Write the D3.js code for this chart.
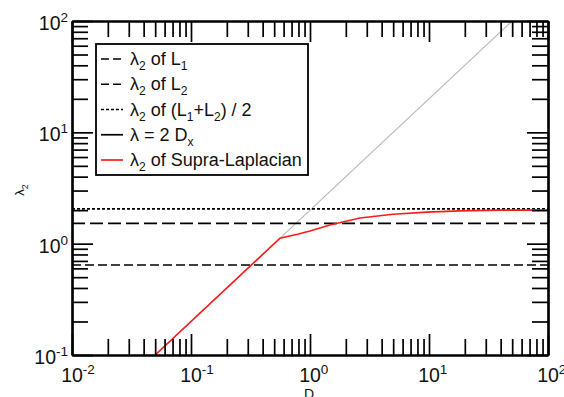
<!DOCTYPE html>
<html>
<head>
<meta charset="utf-8">
<script src="https://cdn.jsdelivr.net/npm/d3@7/dist/d3.min.js"></script>
<style>
  html, body { margin: 0; padding: 0; background: #fff; }
  svg { display: block; }
  text { font-family: "Liberation Sans", Arial, sans-serif; fill: #111; }
</style>
</head>
<body>
<svg id="chart" width="564" height="397"></svg>
<script>
// Axis ranges (log scales)
const xDomain = [0.01, 100];
const yDomain = [0.1, 100];
const xDecades = [-2, -1, 0, 1, 2];
const yDecades = [-1, 0, 1, 2];

// Constant eigenvalue levels
const lambdaL1 = 0.643;
const lambdaL2 = 1.52;
const lambdaMean = 2.05;

// Reference line lambda = 2 D
const lineD = [0.05, 50];
const lineLambda = [0.1, 100];

// Second eigenvalue of the supra-Laplacian versus D
const supraD = [0.05, 0.56, 0.8, 1.0, 1.47, 2.63, 4.98, 9.6, 18.2, 40, 100];
const supraLambda = [0.1, 1.12, 1.22, 1.30, 1.47, 1.70, 1.84, 1.92, 1.97, 2.0, 2.0];

// Legend entries ("_c" marks a subscript character)
const legendLabels = ["λ_2 of L_1", "λ_2 of L_2", "λ_2 of (L_1+L_2) / 2", "λ = 2 D_x", "λ_2 of Supra-Laplacian"];
const legendKeys = ["l1", "l2", "mean", "diag", "supra"];

const styles = {
  l1:    { stroke: "#000", width: 1.7, dash: "9,4" },
  l2:    { stroke: "#000", width: 1.7, dash: "13,5" },
  mean:  { stroke: "#000", width: 1.7, dash: "3,2" },
  diag:  { stroke: "#b8b8b8", width: 1.1, dash: null },
  supra: { stroke: "#ff1a1a", width: 1.6, dash: null }
};

const svg = d3.select("#chart");
const L = 72, R = 548, T = 21, B = 355;

const x = d3.scaleLog().domain(xDomain).range([L, R]);
const y = d3.scaleLog().domain(yDomain).range([B, T]);

const plot = svg.append("g");
svg.append("clipPath").attr("id", "clip")
  .append("rect").attr("x", L).attr("y", T).attr("width", R - L).attr("height", B - T);
const marks = plot.append("g").attr("clip-path", "url(#clip)");

const line = d3.line().x(d => x(d[0])).y(d => y(d[1]));

function drawLine(points, key) {
  const s = styles[key];
  marks.append("path")
    .datum(points)
    .attr("d", line)
    .attr("fill", "none")
    .attr("stroke", s.stroke)
    .attr("stroke-width", s.width)
    .attr("stroke-dasharray", s.dash);
}

drawLine(lineD.map((d, i) => [d, lineLambda[i]]), "diag");
drawLine([[xDomain[0], lambdaL1], [xDomain[1], lambdaL1]], "l1");
drawLine([[xDomain[0], lambdaL2], [xDomain[1], lambdaL2]], "l2");
drawLine([[xDomain[0], lambdaMean], [xDomain[1], lambdaMean]], "mean");
drawLine(supraD.map((d, i) => [d, supraLambda[i]]), "supra");

// Inward ticks on all four sides: minor ticks short, decade ticks long
const minor = 16, major = 21;
const xMajor = xDecades.map(p => Math.pow(10, p));
const yMajor = yDecades.map(p => Math.pow(10, p));

function styleAxis(g) {
  g.selectAll("text").remove();
  g.selectAll("line").attr("stroke", "#000").attr("stroke-width", 1.7);
  g.select(".domain").attr("stroke", "#000").attr("stroke-width", 2.2);
}

function addAxis(axisFn, scale, transform, majors) {
  const minors = scale.ticks().filter(v => !majors.some(m => Math.abs(m - v) / m < 1e-9));
  const gMinor = plot.append("g").attr("transform", transform)
    .call(axisFn(scale).tickValues(minors).tickSizeInner(-minor).tickSizeOuter(0).tickFormat(""));
  styleAxis(gMinor);
  const gMajor = plot.append("g").attr("transform", transform)
    .call(axisFn(scale).tickValues(majors).tickSizeInner(-major).tickSizeOuter(0).tickFormat(""));
  styleAxis(gMajor);
}

addAxis(d3.axisBottom, x, `translate(0,${B})`, xMajor);
addAxis(d3.axisTop, x, `translate(0,${T})`, xMajor);
addAxis(d3.axisLeft, y, `translate(${L},0)`, yMajor);
addAxis(d3.axisRight, y, `translate(${R},0)`, yMajor);

// Decade labels 10^n
const labFont = 19.5, supFont = 13.5;
const baseW = 21.7;

xDecades.forEach(p => {
  const cx = x(Math.pow(10, p));
  const t = plot.append("text")
    .attr("x", cx - baseW / 2).attr("y", 382)
    .attr("font-size", labFont);
  t.append("tspan").text("10");
  t.append("tspan").attr("font-size", supFont).attr("dy", -8).text(String(p));
});

yDecades.forEach(p => {
  const cy = y(Math.pow(10, p));
  const t = plot.append("text")
    .attr("x", 68).attr("y", cy + 9)
    .attr("text-anchor", "end")
    .attr("font-size", labFont);
  t.append("tspan").text("10");
  t.append("tspan").attr("font-size", supFont).attr("dy", -8).text(String(p));
});

// Axis titles
const yTitle = plot.append("text")
  .attr("transform", "translate(24,190) rotate(-90)")
  .attr("text-anchor", "middle")
  .attr("font-size", 13);
yTitle.append("tspan").text("λ");
yTitle.append("tspan").attr("font-size", 9).attr("dy", 4).text("2");

plot.append("text")
  .attr("x", 309).attr("y", 399)
  .attr("text-anchor", "middle")
  .attr("font-size", 14)
  .text("D");

// Legend
const lg = plot.append("g");
lg.append("rect")
  .attr("x", 96).attr("y", 44).attr("width", 212).attr("height", 131)
  .attr("fill", "#fff").attr("stroke", "#000").attr("stroke-width", 1.8);

const rowY = d3.scaleLinear().domain([0, 4]).range([59, 160]);

function addRich(sel, str, subSize) {
  const parts = str.split(/(_.)/);
  let down = false;
  parts.forEach(part => {
    if (!part) return;
    if (part[0] === "_" && part.length === 2) {
      sel.append("tspan").attr("font-size", subSize).attr("dy", 5).text(part[1]);
      down = true;
    } else {
      const ts = sel.append("tspan").text(part);
      if (down) { ts.attr("dy", -5); down = false; }
    }
  });
}

legendKeys.forEach((k, i) => {
  const s = styles[k];
  const yy = rowY(i);
  lg.append("line")
    .attr("x1", 101).attr("x2", 123).attr("y1", yy).attr("y2", yy)
    .attr("stroke", k === "diag" ? "#000" : s.stroke)
    .attr("stroke-width", 1.7)
    .attr("stroke-dasharray", k === "l1" || k === "l2" ? "8,4" : (k === "mean" ? "3,2" : null));
  const t = lg.append("text")
    .attr("x", 130).attr("y", yy + 6)
    .attr("font-size", 18);
  addRich(t, legendLabels[i], 12);
});
</script>
</body>
</html>
